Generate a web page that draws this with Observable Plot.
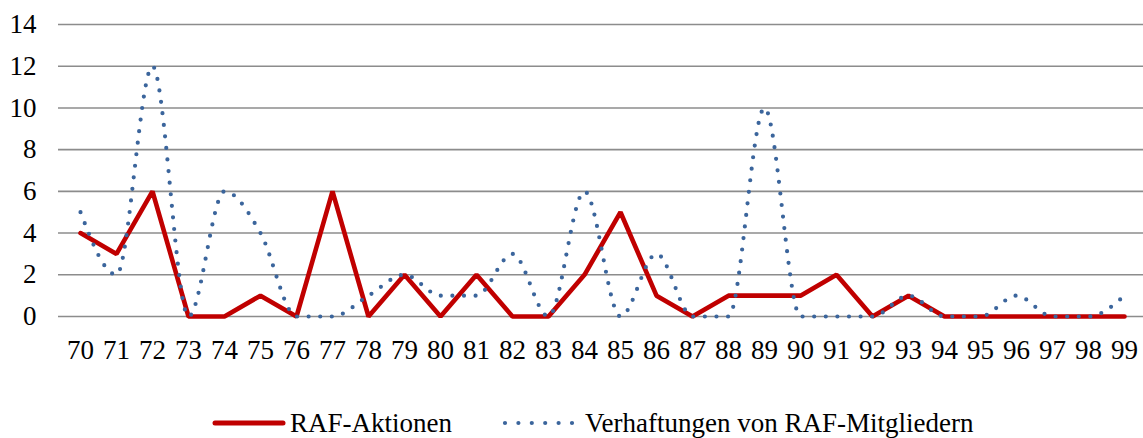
<!DOCTYPE html>
<html>
<head>
<meta charset="utf-8">
<script src="https://cdn.jsdelivr.net/npm/d3@7"></script>
<script src="https://cdn.jsdelivr.net/npm/@observablehq/plot@0.6"></script>
<style>
  html, body { margin: 0; padding: 0; background: #fff; }
  body { width: 1143px; height: 438px; position: relative; overflow: hidden;
         font-family: "Liberation Serif", "Times New Roman", "DejaVu Serif", serif; }
  #chart svg { display: block; }
  #chart svg text { font-family: "Liberation Serif", "Times New Roman", "DejaVu Serif", serif; }
  .lg { position: absolute; font-size: 27px; color: #000; line-height: 1; white-space: nowrap; }
</style>
</head>
<body>
<div id="chart"></div>
<div id="legend"></div>
<script>
const years = ["70","71","72","73","74","75","76","77","78","79","80","81","82","83","84","85","86","87","88","89","90","91","92","93","94","95","96","97","98","99"];
const aktionen = [4,3,6,0,0,1,0,6,0,2,0,2,0,0,2,5,1,0,1,1,1,2,0,1,0,0,0,0,0,0];
const verhaftungen = [5,2,12,0,6,4,0,0,1,2,1,1,3,0,6,0,3,0,0,10,0,0,0,1,0,0,1,0,0,1];
const yTicks = [0,2,4,6,8,10,12,14];
const seriesNames = ["RAF-Aktionen", "Verhaftungen von RAF-Mitgliedern"];

const rowsA = years.map((y, i) => ({year: y, value: aktionen[i]}));
const rowsV = years.map((y, i) => ({year: y, value: verhaftungen[i]}));

const serif = '"Liberation Serif", "Times New Roman", "DejaVu Serif", serif';

const chart = Plot.plot({
  width: 1143,
  height: 370,
  marginLeft: 58,
  marginRight: 0,
  marginTop: 24,
  marginBottom: 54,
  style: {fontFamily: serif, fontSize: "27px", color: "#000", background: "#fff"},
  x: {type: "point", domain: years, range: [76, 1128.3], padding: 0},
  y: {domain: [0, 14]},
  marks: [
    Plot.ruleY(yTicks, {stroke: "#8c8c8c", strokeWidth: 1.6, strokeOpacity: 1}),
    Plot.axisY({ticks: yTicks, tickSize: 0, tickPadding: 22, label: null, fontSize: 27, fontFamily: serif}),
    Plot.axisX({tickSize: 0, tickPadding: 23, label: null, fontSize: 27, fontFamily: serif}),
    Plot.line(rowsA, {x: "year", y: "value", stroke: "#C00000", strokeWidth: 4.6, strokeLinejoin: "miter", strokeLinecap: "round"}),
    Plot.line(rowsV, {x: "year", y: "value", stroke: "#3B659C", strokeWidth: 4.2, curve: "monotone-x", strokeDasharray: "0 11.6", strokeLinecap: "round"})
  ]
});
document.getElementById("chart").appendChild(chart);

const legend = document.getElementById("legend");
legend.innerHTML = `
  <svg class="lg" style="left:210px; top:413px;" width="80" height="20">
    <line x1="5" y1="10" x2="73" y2="10" stroke="#C00000" stroke-width="5" stroke-linecap="round"/>
  </svg>
  <div class="lg" style="left:290px; top:410px;">${seriesNames[0]}</div>
  <svg class="lg" style="left:500px; top:413px;" width="80" height="20">
    <line x1="5" y1="10" x2="73" y2="10" stroke="#3B659C" stroke-width="4.2" stroke-dasharray="0 13.4" stroke-linecap="round"/>
  </svg>
  <div class="lg" style="left:585px; top:410px;">${seriesNames[1]}</div>
`;
</script>
</body>
</html>
